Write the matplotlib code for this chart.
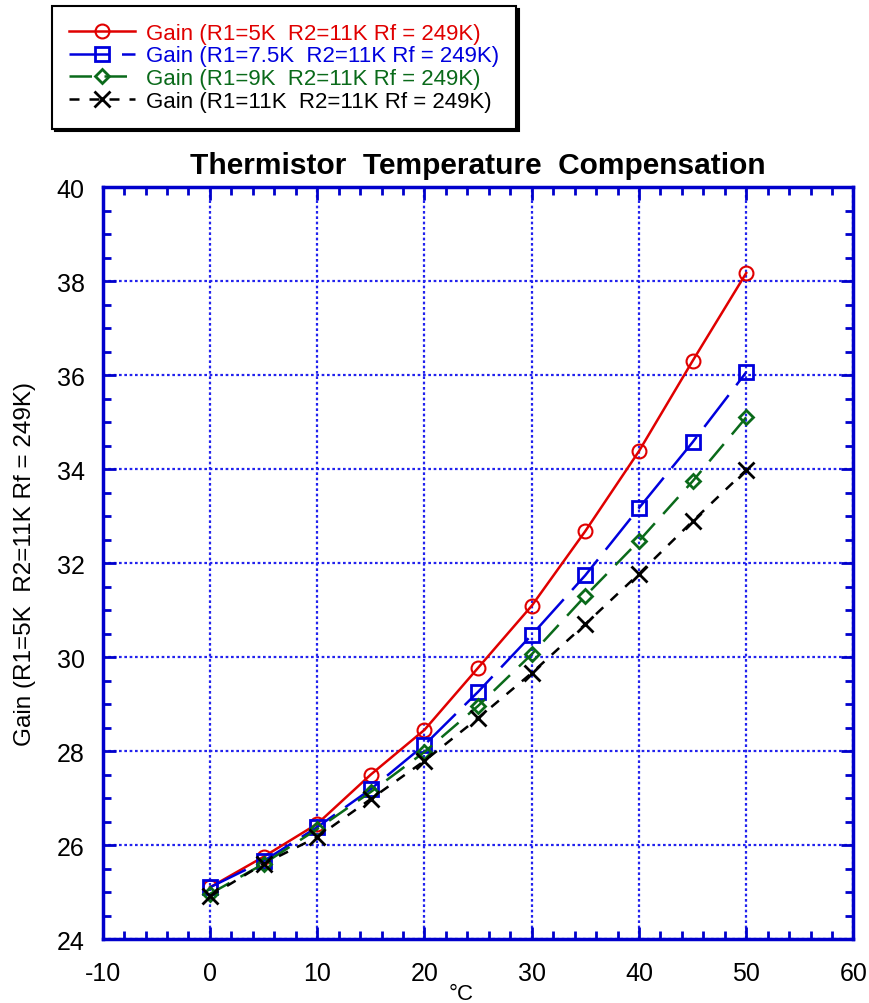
import numpy as np
import matplotlib.pyplot as plt
from matplotlib.ticker import MultipleLocator

plt.rcParams['font.family'] = ['Liberation Sans', 'DejaVu Sans']
plt.rcParams['axes.unicode_minus'] = False

temp = [0, 5, 10, 15, 20, 25, 30, 35, 40, 45, 50]
gain_r5 = [25.10, 25.75, 26.45, 27.50, 28.45, 29.77, 31.09, 32.68, 34.38, 36.30, 38.17]
gain_r75 = [25.10, 25.66, 26.38, 27.19, 28.13, 29.26, 30.47, 31.74, 33.17, 34.57, 36.06]
gain_r9 = [24.96, 25.60, 26.34, 27.13, 27.98, 28.96, 30.06, 31.30, 32.47, 33.74, 35.10]
gain_r11 = [24.91, 25.60, 26.17, 26.98, 27.79, 28.70, 29.66, 30.70, 31.77, 32.89, 33.98]

labels = ["Gain (R1=5K  R2=11K Rf = 249K)",
          "Gain (R1=7.5K  R2=11K Rf = 249K)",
          "Gain (R1=9K  R2=11K Rf = 249K)",
          "Gain (R1=11K  R2=11K Rf = 249K)"]

fig = plt.figure(figsize=(8.7, 10.04), dpi=100)
ax = fig.add_axes([0.118, 0.0637, 0.863, 0.749])

blue = '#0000cc'
ax.plot(temp, gain_r5, color='#e00000', lw=1.8, marker='o', ms=10,
        mfc='none', mew=1.5, label=labels[0])
ax.plot(temp, gain_r75, color='#0000dd', lw=1.8, marker='s', ms=10,
        mfc='none', mew=2, dashes=(16, 5), label=labels[1])
ax.plot(temp, gain_r9, color='#0a6a1a', lw=1.8, marker='D', ms=7,
        mfc='none', mew=2, dashes=(9, 5), label=labels[2])
ax.plot(temp, gain_r11, color='black', lw=1.8, marker='x', ms=11,
        mew=2, dashes=(4, 4), label=labels[3])

ax.set_xlim(-10, 60)
ax.set_ylim(24, 40)
ax.xaxis.set_major_locator(MultipleLocator(10))
ax.xaxis.set_minor_locator(MultipleLocator(2))
ax.yaxis.set_major_locator(MultipleLocator(2))
ax.yaxis.set_minor_locator(MultipleLocator(0.5))
ax.tick_params(which='both', direction='in', top=True, right=True,
               color=blue, width=2, labelsize=18)
ax.tick_params(axis='x', pad=16)
ax.tick_params(axis='y', pad=13)
ax.tick_params(which='major', length=9)
ax.tick_params(which='minor', length=6)
for s in ax.spines.values():
    s.set_color(blue)
    s.set_linewidth(2.5)
ax.grid(True, which='major', color='#2222ee', linestyle=(0, (1.2, 1.2)), lw=1.6)

ax.set_title("Thermistor  Temperature  Compensation", fontsize=21.5,
             fontweight='bold', pad=10)
ax.set_xlabel("°C", fontsize=16, labelpad=-2)
ax.xaxis.set_label_coords(0.478, -0.058)
ax.set_ylabel("Gain (R1=5K  R2=11K Rf = 249K)", fontsize=17.5, labelpad=15)

leg = ax.legend(loc='upper left', bbox_to_anchor=(52 / 870, 1 - 7 / 1004),
                bbox_transform=fig.transFigure, fontsize=16, fancybox=False,
                edgecolor='black', labelcolor='linecolor', handlelength=3.0,
                handletextpad=0.5, borderpad=0.75, labelspacing=0.08,
                borderaxespad=0,
                shadow={'facecolor': 'black', 'edgecolor': 'black', 'alpha': 1})
leg.get_frame().set_linewidth(1.5)

fig.savefig('out.png', dpi=100)
